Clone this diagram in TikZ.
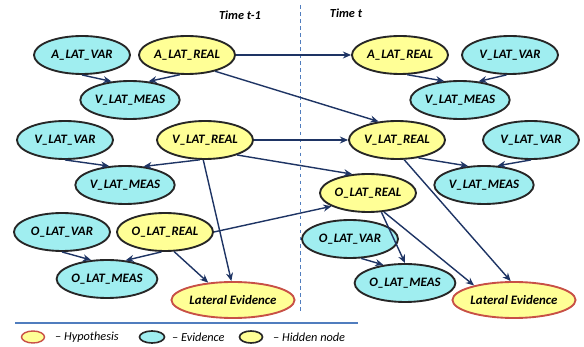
\documentclass[tikz,border=0pt]{standalone}
\usepackage{fontspec}
\setmainfont{Carlito}
\usepackage{tikz}
\usetikzlibrary{arrows.meta,positioning,shapes.geometric}

\definecolor{evcyan}{RGB}{160,238,240}
\definecolor{hidyel}{RGB}{255,255,150}
\definecolor{hypred}{RGB}{200,80,70}
\definecolor{arrblue}{RGB}{30,52,100}
\definecolor{lineblue}{RGB}{80,125,190}

\tikzset{
    base/.style={ellipse, draw=black!85, line width=1.6pt, inner sep=0pt,
        minimum width=2.88cm, minimum height=1.14cm,
        font=\fontsize{11}{12}\selectfont\bfseries\itshape},
    evid/.style={base, fill=evcyan},
    hidden/.style={base, fill=hidyel},
    hypo/.style={base, fill=hidyel, draw=hypred, minimum width=3.6cm, minimum height=1.08cm},
    arr/.style={-{Stealth[length=7pt,width=6pt]}, line width=1.2pt, draw=arrblue},
    legtext/.style={font=\fontsize{10.5}{12}\selectfont\itshape, anchor=west, inner sep=0pt}
}

\begin{document}
\begin{tikzpicture}[x=0.03cm, y=-0.03cm]
    \useasboundingbox (0,0) rectangle (584,347);

    % Time slices
    \draw[dashed, lineblue, line width=0.8pt] (300,5) -- (300,312);
    \node[font=\fontsize{10.5}{12}\selectfont\bfseries\itshape] (tprev) at (240,15) {Time t-1};
    \node[font=\fontsize{10.5}{12}\selectfont\bfseries\itshape] (tcur) at (346,13) {Time t};

    % Slice t-1
    \node[evid]   (aVarA)   at (82,55)   {A\_LAT\_VAR};
    \node[hidden] (aRealA)  at (187,55)  {A\_LAT\_REAL};
    \node[evid]   (vMeasA)  at (130,100) {V\_LAT\_MEAS};
    \node[evid]   (vVarA)   at (65,140)  {V\_LAT\_VAR};
    \node[hidden] (vRealA)  at (205,140) {V\_LAT\_REAL};
    \node[evid]   (vMeasA2) at (125,185) {V\_LAT\_MEAS};
    \node[evid]   (oVarA)   at (62,232)  {O\_LAT\_VAR};
    \node[hidden] (oRealA)  at (165,232) {O\_LAT\_REAL};
    \node[evid]   (oMeasA)  at (107,279) {O\_LAT\_MEAS};
    \node[hypo]   (leA)     at (233,300) {Lateral Evidence};

    % Slice t
    \node[hidden] (aRealB)  at (400,55)  {A\_LAT\_REAL};
    \node[evid]   (vVarB)   at (510,55)  {V\_LAT\_VAR};
    \node[evid]   (vMeasB)  at (460,100) {V\_LAT\_MEAS};
    \node[hidden] (vRealB)  at (397,140) {V\_LAT\_REAL};
    \node[evid]   (vVarB2)  at (531,140) {V\_LAT\_VAR};
    \node[evid]   (vMeasB2) at (484,185) {V\_LAT\_MEAS};
    \node[hidden] (oRealB)  at (368,193) {O\_LAT\_REAL};
    \node[evid]   (oVarB)   at (350,239) {O\_LAT\_VAR};
    \node[evid]   (oMeasB)  at (405,283) {O\_LAT\_MEAS};
    \node[hypo]   (leB)     at (514,300) {Lateral Evidence};

    % Links inside t-1
    \draw[arr] (aVarA.south) -- (vMeasA.135);
    \draw[arr] (aRealA.250) -- (vMeasA.45);
    \draw[arr] (vVarA.south) -- (vMeasA2.130);
    \draw[arr] (vRealA.255) -- (vMeasA2.45);
    \draw[arr] (vRealA.265) -- (leA.95);
    \draw[arr] (oVarA.south) -- (oMeasA.130);
    \draw[arr] (oRealA.260) -- (oMeasA.45);
    \draw[arr] (oRealA.295) -- (leA.145);

    % Links t-1 -> t
    \draw[arr] (aRealA.east) -- (aRealB.west);
    \draw[arr] (aRealA.330) -- (vRealB.135);
    \draw[arr] (vRealA.east) -- (vRealB.west);
    \draw[arr] (vRealA.335) -- (oRealB.130);
    \draw[arr] (oRealA.east) -- (oRealB.200);

    % Links inside t
    \draw[arr] (aRealB.290) -- (vMeasB.130);
    \draw[arr] (vVarB.260) -- (vMeasB.45);
    \draw[arr] (vRealB.320) -- (vMeasB2.130);
    \draw[arr] (vVarB2.south) -- (vMeasB2.55);
    \draw[arr] (vRealB.290) -- (leB.100);
    \draw[arr] (oRealB.305) -- (oMeasB.north);
    \draw[arr] (oRealB.310) -- (leB.160);
    \draw[arr] (oVarB.300) -- (oMeasB.140);

    % Legend
    \draw[lineblue, line width=0.9pt] (15,323) -- (358,323);
    \node[ellipse, draw=hypred, fill=hidyel, line width=1.2pt, minimum width=0.69cm, minimum height=0.36cm, inner sep=0pt] (lgHyp) at (33,337) {};
    \node[legtext] (lgHypT) at (55,337) {-- Hypothesis};
    \node[ellipse, draw=black!85, fill=evcyan, line width=1.4pt, minimum width=0.75cm, minimum height=0.36cm, inner sep=0pt] (lgEv) at (152,337) {};
    \node[legtext] (lgEvT) at (172,337) {-- Evidence};
    \node[ellipse, draw=black!85, fill=hidyel, line width=1.4pt, minimum width=0.69cm, minimum height=0.36cm, inner sep=0pt] (lgHid) at (251,337) {};
    \node[legtext] (lgHidT) at (273,337) {-- Hidden node};
\end{tikzpicture}
\end{document}
